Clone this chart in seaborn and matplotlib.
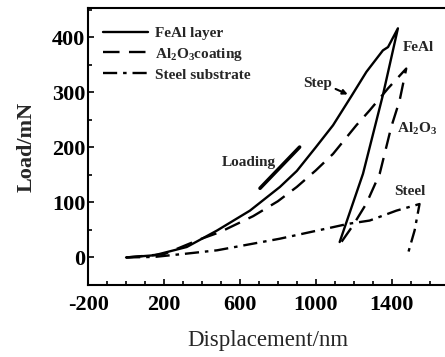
import seaborn as sns
import pandas as pd
import matplotlib.pyplot as plt
from matplotlib.ticker import FixedLocator, MultipleLocator

sns.set_theme(style="ticks")
plt.rcParams['font.family'] = ['Liberation Serif', 'DejaVu Serif']
plt.rcParams['mathtext.fontset'] = 'custom'
plt.rcParams['mathtext.rm'] = 'Liberation Serif'
plt.rcParams['mathtext.bf'] = 'Liberation Serif:bold'
plt.rcParams['axes.unicode_minus'] = False

# load-displacement curves (loading branch then unloading branch)
feal_x = [0, 150, 320, 480, 653, 811, 900, 1000, 1091, 1188, 1267, 1354, 1381, 1433,
          1354, 1249, 1126]
feal_y = [0, 4, 19, 49, 85, 128, 157, 200, 240, 293, 337, 376, 382, 416,
          295, 152, 28]

al2o3_x = [0, 200, 390, 495, 670, 800, 900, 1000, 1091, 1214, 1284, 1381, 1477,
           1442, 1398, 1337, 1267, 1196, 1135]
al2o3_y = [0, 6, 33, 46, 75, 102, 128, 158, 188, 240, 267, 307, 343,
           285, 237, 152, 98, 58, 28]

steel_x = [0, 150, 320, 480, 810, 1091, 1170, 1284, 1425, 1547, 1521, 1486]
steel_y = [0, 1, 7, 13, 34, 55, 61, 67, 85, 97, 49, 7]

labels = ['FeAl layer', r'$\mathregular{Al_2O_3}$coating', 'Steel substrate']
x_ticks = [-200, 200, 600, 1000, 1400]
y_ticks = [0, 100, 200, 300, 400]

fig = plt.figure(figsize=(4.45, 3.57), dpi=100)
ax = fig.add_axes([0.198, 0.2017, 0.81, 0.776])

styles = [None, (7, 4), (6, 2.5, 1.5, 2.5)]
for (xs, ys), lab, dash in zip([(feal_x, feal_y), (al2o3_x, al2o3_y), (steel_x, steel_y)],
                               labels, styles):
    df = pd.DataFrame({'x': xs, 'y': ys})
    line = sns.lineplot(data=df, x='x', y='y', sort=False, estimator=None,
                        color='black', lw=1.7, label=lab, ax=ax).lines[-1]
    if dash is not None:
        line.set_dashes(dash)

ax.set_xlim(-200, 1700)
ax.set_ylim(-50, 453)
ax.xaxis.set_major_locator(FixedLocator(x_ticks))
ax.xaxis.set_minor_locator(MultipleLocator(100))
ax.yaxis.set_major_locator(FixedLocator(y_ticks))
ax.yaxis.set_minor_locator(MultipleLocator(50))
ax.tick_params(which='both', direction='in', width=1.2, colors='black',
               labelsize=16, pad=2)
ax.tick_params(which='major', length=4)
ax.tick_params(which='minor', length=3)
ax.tick_params(axis='x', pad=7)
for t in ax.get_xticklabels() + ax.get_yticklabels():
    t.set_fontweight('bold')
for s in ax.spines.values():
    s.set_linewidth(1.5)
    s.set_color('black')

ax.set_xlabel('Displacement/nm', fontsize=16.5, labelpad=11)
ax.set_ylabel('Load/mN', fontsize=16, labelpad=11, fontweight='bold')

ax.legend(loc='upper left', bbox_to_anchor=(0.025, 0.955), frameon=False,
          handlelength=2.9, handletextpad=0.5, labelspacing=0.35, borderaxespad=0,
          prop={'weight': 'bold', 'size': 11})

ax.text(1458, 382, 'FeAl', fontsize=11, fontweight='bold', va='center')
ax.text(1426, 234, r'$\mathregular{Al_2O_3}$', fontsize=11, fontweight='bold', va='center')
ax.text(1416, 120, 'Steel', fontsize=11, fontweight='bold', va='center')
ax.text(932, 316, 'Step', fontsize=11, fontweight='bold', va='center')
ax.annotate('', xy=(1182, 294), xytext=(1091, 308),
            arrowprops=dict(arrowstyle='-|>', color='black', lw=1.5,
                            mutation_scale=7))
ax.text(505, 172, 'Loading', fontsize=11, fontweight='bold', va='center')
ax.annotate('', xy=(925, 204), xytext=(696, 122),
            arrowprops=dict(arrowstyle='-', color='black', lw=2.6))

fig.savefig('out.png', dpi=100)
